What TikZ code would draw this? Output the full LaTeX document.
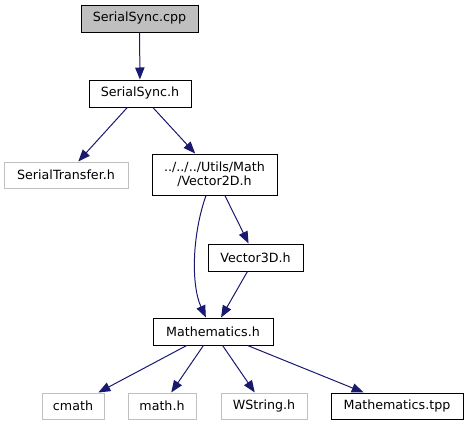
\documentclass[tikz,border=0pt]{standalone}
\usepackage{fontspec}
\setmainfont{DejaVu Sans}
\usepackage{xcolor}
\usepackage{tikz}
\usetikzlibrary{arrows.meta,positioning}
\definecolor{edgeblue}{HTML}{191970}
\definecolor{rootgray}{HTML}{BFBFBF}
\definecolor{sysgray}{HTML}{C0C0C0}
\tikzset{
  filebox/.style={draw=black, line width=0.75pt, fill=white, align=center, inner sep=0pt, minimum height=20.25pt, font=\fontsize{9.5}{10.5}\selectfont},
  rootbox/.style={filebox, fill=rootgray},
  sysbox/.style={filebox, draw=sysgray, minimum height=19.5pt},
  dep/.style={-{Triangle[length=9pt, width=7pt]}, line width=0.75pt, draw=edgeblue}
}

\begin{document}
\begin{tikzpicture}[x=0.75pt, y=-0.75pt]
  \useasboundingbox (0,0) rectangle (469,425);
  \node[rootbox, minimum width=87.75pt] (cpp) at (139.5,18.5) {SerialSync.cpp};
  \node[filebox, minimum width=76.5pt] (ssh) at (140,93.5) {SerialSync.h};
  \node[sysbox, minimum width=93pt] (transfer) at (66,175) {SerialTransfer.h};
  \node[filebox, minimum width=93.75pt, minimum height=30.75pt] (vec2d) at (214.5,174.5) {../../../Utils/Math\\/Vector2D.h};
  \node[filebox, minimum width=71.25pt] (vec3d) at (255.5,257.5) {Vector3D.h};
  \node[filebox, minimum width=90pt] (math) at (213,331.5) {Mathematics.h};
  \node[sysbox, minimum width=46.5pt] (cmath) at (73,406) {cmath};
  \node[sysbox, minimum width=51pt] (mathh) at (162,406) {math.h};
  \node[sysbox, minimum width=64.5pt] (wstring) at (264,406) {WString.h};
  \node[filebox, minimum width=99pt, minimum height=19.5pt] (tpp) at (397,406) {Mathematics.tpp};

  \draw[dep] (cpp) -- (ssh);
  \draw[dep] (ssh) -- (transfer);
  \draw[dep] (ssh) -- (vec2d);
  \draw[dep] (vec2d) -- (vec3d);
  \draw[dep] (vec2d.-112.5) .. controls (192,235) and (191,285) .. (math.117);
  \draw[dep] (vec3d) -- (math);
  \draw[dep] (math) -- (cmath);
  \draw[dep] (math) -- (mathh);
  \draw[dep] (math) -- (wstring);
  \draw[dep] (math) -- (tpp);
\end{tikzpicture}
\end{document}
